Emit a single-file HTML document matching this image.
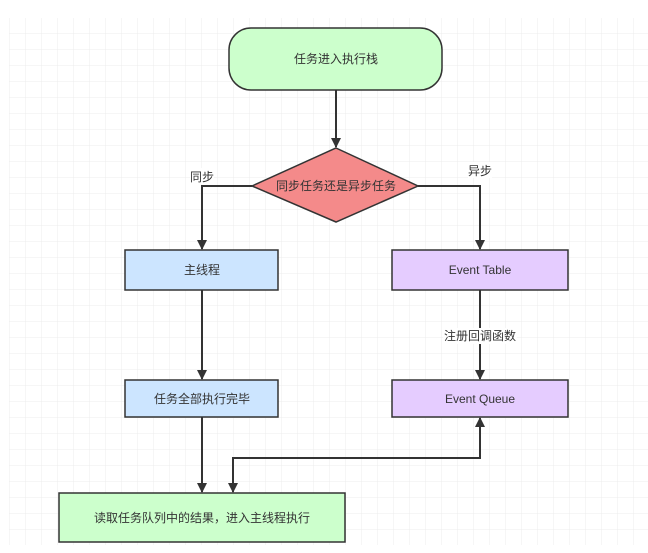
<!DOCTYPE html>
<html><head><meta charset="utf-8"><style>
html,body{margin:0;padding:0;background:#fff;}
svg{display:block;}
text{font-family:"Liberation Sans","Noto Sans CJK SC",sans-serif;font-size:12px;fill:#333;}
</style></head><body>
<svg width="648" height="553" viewBox="0 0 648 553" xmlns="http://www.w3.org/2000/svg">
<defs>
<pattern id="g" x="10" y="18" width="16" height="16" patternUnits="userSpaceOnUse">
<path d="M16 0V16M0 16H16" stroke="#ececec" stroke-width="1" fill="none"/>
</pattern>
<marker id="a" markerWidth="10" markerHeight="10" refX="9" refY="5" orient="auto-start-reverse" markerUnits="userSpaceOnUse">
<path d="M0 0L10 5L0 10Z" fill="#333"/>
</marker>
</defs>
<rect x="9" y="18" width="639" height="527" fill="url(#g)"/>
<g stroke="#333" stroke-width="2" fill="none">
<path d="M336 90V147" marker-end="url(#a)"/>
<path d="M252 186H202V249" marker-end="url(#a)"/>
<path d="M418 186H480V249" marker-end="url(#a)"/>
<path d="M202 290V379" marker-end="url(#a)"/>
<path d="M480 290V379" marker-end="url(#a)"/>
<path d="M202 417V492" marker-end="url(#a)"/>
<path d="M233 492V458H480V418" marker-end="url(#a)" marker-start="url(#a)"/>
</g>
<rect x="229" y="28" width="213" height="62" rx="22" fill="#ccffcc" stroke="#333" stroke-width="1.5"/>
<text x="336" y="63" text-anchor="middle">任务进入执行栈</text>
<polygon points="336,148 418,186 336,222 252,186" fill="#f48a8a" stroke="#333" stroke-width="1.5"/>
<text x="336" y="190" text-anchor="middle">同步任务还是异步任务</text>
<rect x="190" y="168" width="24" height="16" fill="#fff"/>
<text x="202" y="181" text-anchor="middle">同步</text>
<rect x="468" y="162" width="24" height="16" fill="#fff"/>
<text x="480" y="175" text-anchor="middle">异步</text>
<rect x="125" y="250" width="153" height="40" fill="#cce5ff" stroke="#333" stroke-width="1.5"/>
<text x="202" y="274" text-anchor="middle">主线程</text>
<rect x="392" y="250" width="176" height="40" fill="#e5ccff" stroke="#333" stroke-width="1.5"/>
<text x="480" y="274" text-anchor="middle">Event Table</text>
<rect x="443" y="328" width="74" height="16" fill="#fff"/>
<text x="480" y="340" text-anchor="middle">注册回调函数</text>
<rect x="125" y="380" width="153" height="37" fill="#cce5ff" stroke="#333" stroke-width="1.5"/>
<text x="202" y="403" text-anchor="middle">任务全部执行完毕</text>
<rect x="392" y="380" width="176" height="37" fill="#e5ccff" stroke="#333" stroke-width="1.5"/>
<text x="480" y="403" text-anchor="middle">Event Queue</text>
<rect x="59" y="493" width="286" height="49" fill="#ccffcc" stroke="#333" stroke-width="1.5"/>
<text x="202" y="522" text-anchor="middle">读取任务队列中的结果，进入主线程执行</text>
</svg>
</body></html>
